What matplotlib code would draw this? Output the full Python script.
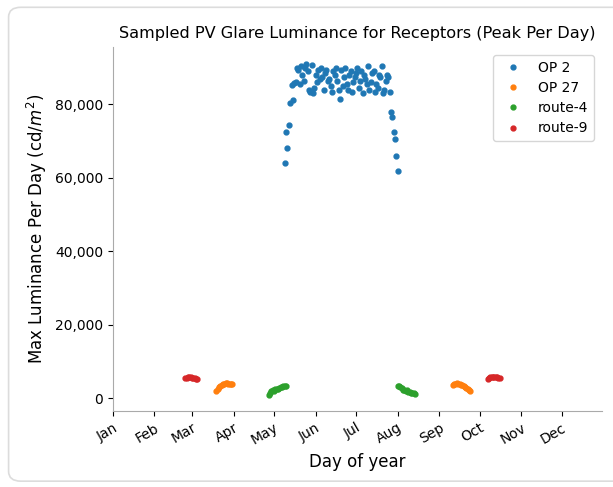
import numpy as np
import matplotlib
matplotlib.use("Agg")
import matplotlib.pyplot as plt
from matplotlib.patches import FancyBboxPatch

# day-of-year start of each series and the sampled peak luminance per day
op2_start = 129
op2_vals = [64000, 72600, 68100, 74500, 80400, 85400, 81100, 85800, 86200, 90000,
            89500, 85500, 90500, 88000, 86500, 90000, 91000, 89000, 84000, 83500,
            90800, 83000, 84500, 88000, 86000, 89500, 87000, 90000, 87500, 84000,
            88500, 89500, 86500, 87000, 85000, 83500, 89000, 88000, 90000, 86500,
            84000, 81500, 89500, 85000, 87500, 90000, 85500, 84000, 88000, 89000,
            83500, 86000, 87500, 88500, 90000, 84500, 86500, 89000, 83000, 88000,
            87000, 85500, 90500, 84000, 86000, 88500, 89000, 83500, 85500, 84500,
            88000, 87500, 90500, 83000, 84000, 86500, 88000, 87500, 83500, 78000,
            76500, 72500, 70500, 66000, 62000]

op27_a_start = 78
op27_a_vals = [2000, 2500, 3000, 3300, 3600, 3800, 3900, 4000, 4000, 3900, 3900, 3800, 3800]
op27_b_start = 254
op27_b_vals = [3700, 3800, 3900, 4000, 3900, 3800, 3700, 3500, 3200, 3000, 2700, 2400, 2100, 2000]

route4_a_start = 117
route4_a_vals = [800, 1400, 1900, 2200, 2000, 2400, 2600, 2500, 2800, 3000, 3100, 3200, 3200, 3300]
route4_b_start = 213
route4_b_vals = [3200, 3200, 3100, 2800, 2300, 2200, 2000, 2100, 1800, 1600, 1500, 1400, 1300, 1200]

route9_a_start = 55
route9_a_vals = [5400, 5600, 5800, 5900, 5800, 5600, 5500, 5400, 5300, 5200]
route9_b_start = 280
route9_b_vals = [5300, 5500, 5700, 5800, 5900, 5900, 5800, 5700, 5600, 5400]

month_days = [1, 32, 60, 91, 121, 152, 182, 213, 244, 274, 305, 335]
month_labels = ["Jan", "Feb", "Mar", "Apr", "May", "Jun", "Jul", "Aug", "Sep", "Oct", "Nov", "Dec"]


def days(start, vals):
    return np.arange(start, start + len(vals))


fig = plt.figure(figsize=(6.13, 4.87), dpi=100)
fig.patches.append(FancyBboxPatch((0.014, 0.012), 1.1, 0.973, boxstyle="round,pad=0,rounding_size=0.02",
                                  transform=fig.transFigure, facecolor="white",
                                  edgecolor="#dcdcdc", linewidth=1.2, zorder=-1))
ax = fig.add_axes([0.184, 0.156, 0.798, 0.748])

ms = 7
ax.plot(days(op2_start, op2_vals), op2_vals, ".", color="C0", ms=ms, label="OP 2")
ax.plot(np.r_[days(op27_a_start, op27_a_vals), np.nan, days(op27_b_start, op27_b_vals)],
        op27_a_vals + [np.nan] + op27_b_vals, ".", color="C1", ms=ms, label="OP 27")
ax.plot(np.r_[days(route4_a_start, route4_a_vals), np.nan, days(route4_b_start, route4_b_vals)],
        route4_a_vals + [np.nan] + route4_b_vals, ".", color="C2", ms=ms, label="route-4")
ax.plot(np.r_[days(route9_a_start, route9_a_vals), np.nan, days(route9_b_start, route9_b_vals)],
        route9_a_vals + [np.nan] + route9_b_vals, ".", color="C3", ms=ms, label="route-9")

ax.set_xlim(1, 365)
ax.set_ylim(-3500, 95700)
ax.set_xticks(month_days)
ax.set_xticklabels(month_labels, rotation=30, ha="right", rotation_mode="anchor")
ax.yaxis.set_major_formatter(matplotlib.ticker.StrMethodFormatter("{x:,.0f}"))

for s in ["top", "right"]:
    ax.spines[s].set_visible(False)
for s in ["left", "bottom"]:
    ax.spines[s].set_color("#aaaaaa")

ax.set_title("Sampled PV Glare Luminance for Receptors (Peak Per Day)", fontsize=11.6)
ax.set_xlabel("Day of year", fontsize=12)
ax.set_ylabel("Max Luminance Per Day (cd/$m^2$)", fontsize=12)
ax.legend(loc="upper right", fontsize=10, borderaxespad=0.6, labelspacing=0.45)

fig.savefig("out.png", dpi=100)
